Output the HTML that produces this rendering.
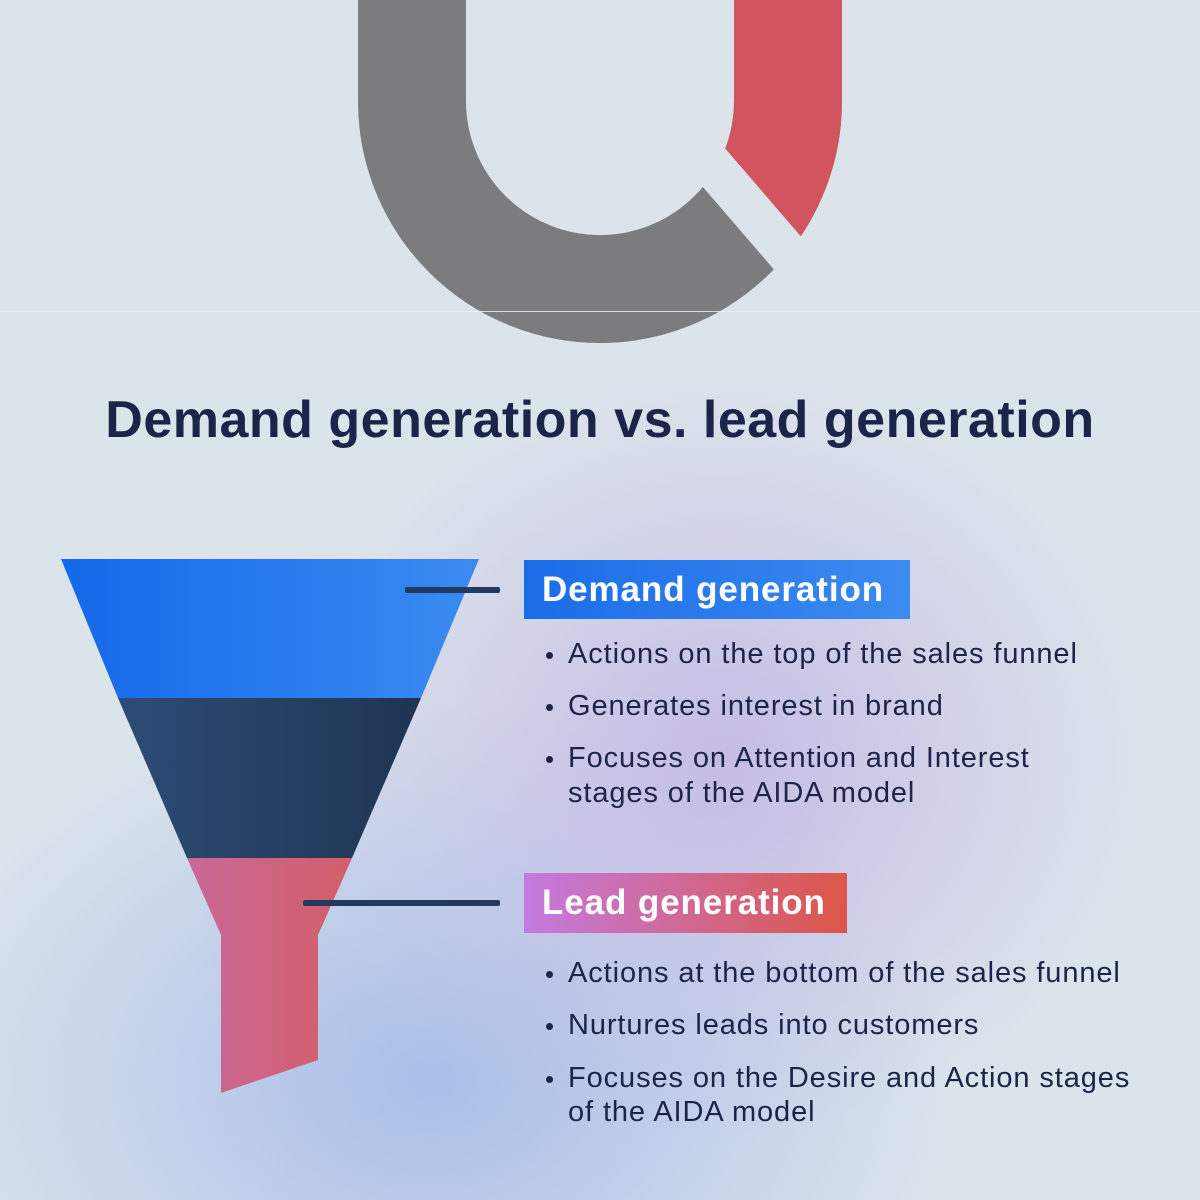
<!DOCTYPE html>
<html><head><meta charset="utf-8"><style>
html,body{margin:0;padding:0}
body{width:1200px;height:1200px;position:relative;overflow:hidden;background:#dae3eb;font-family:"Liberation Sans",sans-serif;color:#1c2449}
.bg{position:absolute;inset:0;background:
radial-gradient(ellipse 420px 380px at 720px 760px,rgba(196,186,228,.95),rgba(196,186,228,0) 100%),
radial-gradient(ellipse 520px 380px at 430px 1080px,rgba(166,188,232,.95),rgba(166,188,232,0) 100%),
linear-gradient(#dbe3eb,#dbe3eb)}
.t{position:absolute;left:0;width:1200px;text-align:center;top:390px;font-weight:bold;font-size:52px;letter-spacing:0.5px;color:#1c2449;white-space:nowrap}
.box{position:absolute;color:#fff;font-weight:bold;font-size:35px;letter-spacing:0.9px;line-height:60px;padding-left:18px;box-sizing:border-box;white-space:nowrap}
.b{position:absolute;left:568px;font-size:29px;letter-spacing:0.9px;line-height:35px;color:#1c2449;white-space:nowrap}
.b:before{content:"";position:absolute;left:-22px;top:15px;width:7px;height:7px;border-radius:50%;background:#1c2449}
.nb:before{display:none}
</style></head><body>
<div class="bg"></div>
<svg width="1200" height="1200" style="position:absolute;left:0;top:0">
<defs>
<clipPath id="rc"><polygon points="526,-50,1100,-50,1100,500,1001,500"/></clipPath>
<linearGradient id="g1" x1="0" x2="1"><stop offset="0" stop-color="#1469ea"/><stop offset="1" stop-color="#3b8bf1"/></linearGradient>
<linearGradient id="g2" x1="0" x2="1"><stop offset="0" stop-color="#2d4c75"/><stop offset="1" stop-color="#1f3453"/></linearGradient>
<linearGradient id="g3" x1="0" x2="1"><stop offset="0" stop-color="#c96896"/><stop offset="1" stop-color="#d35f68"/></linearGradient>
</defs>
<path d="M412,-20 V101 A188,188 0 0 0 788,101 V-20" fill="none" stroke="#7b7c80" stroke-width="108"/>
<path d="M412,-20 V101 A188,188 0 0 0 788,101 V-20" fill="none" stroke="#d1545f" stroke-width="108" clip-path="url(#rc)"/>
<line x1="660" y1="105" x2="815" y2="285" stroke="#dbe3eb" stroke-width="42"/>
<rect x="0" y="311" width="1200" height="1" fill="#eef2f6" opacity="0.8"/>
<polygon points="61,559 479,559 421,698 118,698" fill="url(#g1)"/>
<polygon points="118,698 421,698 352,858 187,858" fill="url(#g2)"/>
<polygon points="187,858 352,858 318,935 318,1060 221,1093 221,935" fill="url(#g3)"/>
<rect x="405" y="587" width="95" height="6" rx="2" fill="#233a5e"/>
<rect x="303" y="900" width="197" height="6" rx="2" fill="#233a5e"/>
</svg>
<div class="t">Demand generation vs. lead generation</div>
<div class="box" style="left:524px;top:560px;width:386px;height:59px;background:linear-gradient(90deg,#1a6de8,#3b8bf0)">Demand generation</div>
<div class="b" style="top:637px">Actions on the top of the sales funnel</div>
<div class="b" style="top:689px">Generates interest in brand</div>
<div class="b" style="top:741px">Focuses on Attention and Interest</div>
<div class="b nb" style="top:776px">stages of the AIDA model</div>
<div class="box" style="left:524px;top:873px;width:323px;height:60px;background:linear-gradient(90deg,#c47ae0,#dc5648)">Lead generation</div>
<div class="b" style="top:956px">Actions at the bottom of the sales funnel</div>
<div class="b" style="top:1008px">Nurtures leads into customers</div>
<div class="b" style="top:1061px">Focuses on the Desire and Action stages</div>
<div class="b nb" style="top:1095px">of the AIDA model</div>
</body></html>
